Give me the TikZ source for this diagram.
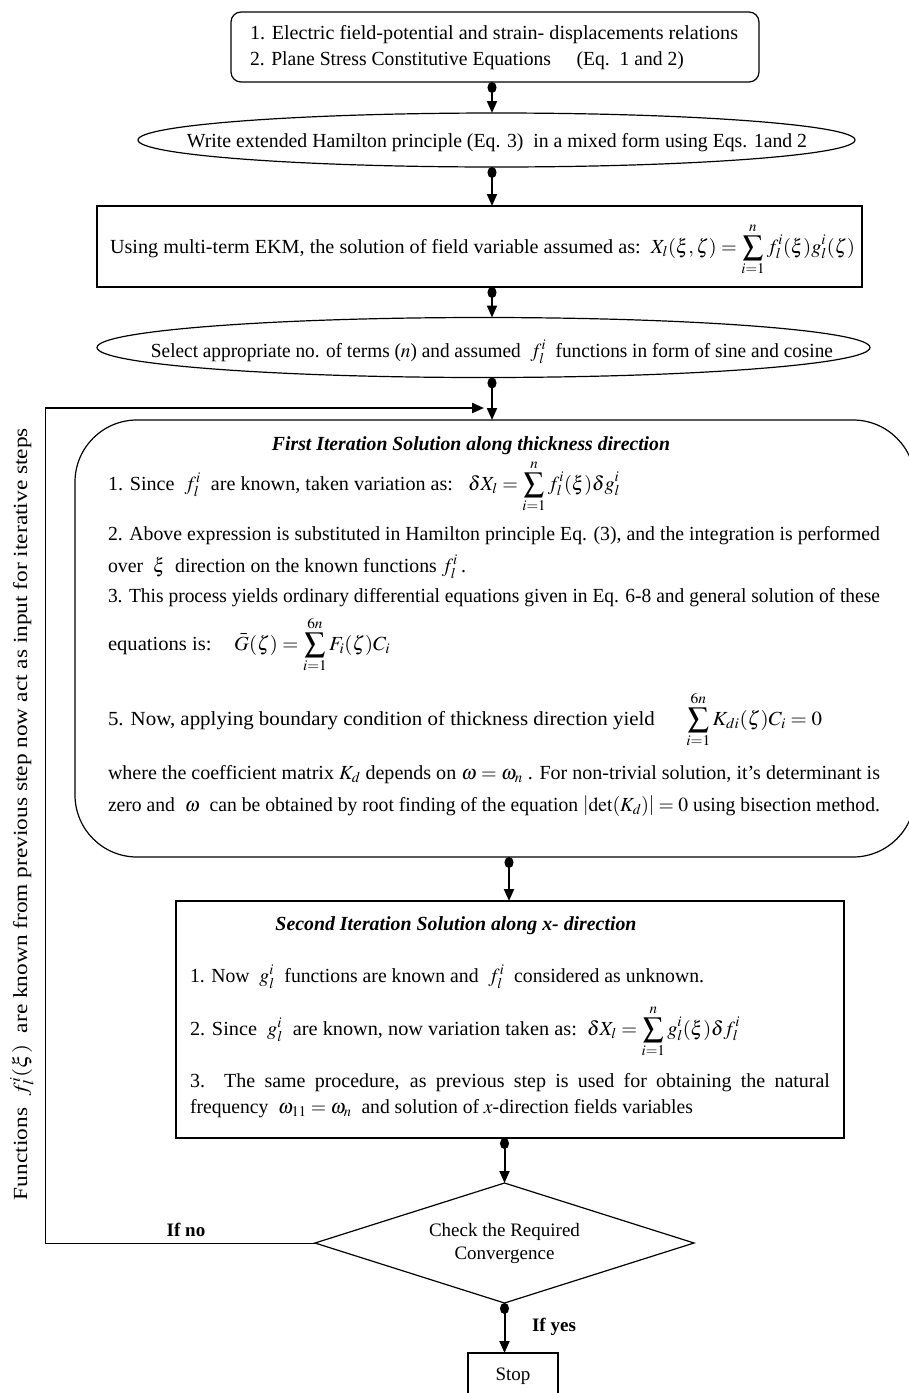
\documentclass[tikz,border=0pt]{standalone}
\usepackage{mathptmx}
\usepackage{graphicx}
\usepackage[no-math]{fontspec}
\setmainfont{Liberation Serif}
\usetikzlibrary{shapes.geometric,arrows.meta}
\newcommand{\fitto}[2]{\resizebox{#1}{\height}{#2}}
\begin{document}
\begin{tikzpicture}[x=1pt,y=-1pt,
  every node/.style={inner sep=0pt, outer sep=0pt},
  frame/.style={draw, line width=1.2pt},
  rframe/.style={frame, rectangle, rounded corners=#1},
  eframe/.style={frame, ellipse},
  txt/.style={font=\fontsize{20}{24}\selectfont, anchor=base west},
  ctxt/.style={font=\fontsize{20}{24}\selectfont, anchor=base},
  ttl/.style={font=\fontsize{20}{24}\selectfont\bfseries\itshape, anchor=base},
  flow/.style={line width=2pt, {Circle[length=11pt,width=9pt]}-{Triangle[length=12pt,width=10pt]}},
  fb/.style={line width=1pt},
  fbarrow/.style={line width=2.2pt, -{Triangle[length=12pt,width=10pt]}},
]
\useasboundingbox[fill=white] (0,0) rectangle (909,1393);

% axes for the vertical connectors
\coordinate (ax) at (492,0);
\coordinate (bx) at (509,0);
\coordinate (cx) at (504.5,0);

% ---------- top box ----------
\node[rframe=10pt, minimum width=528pt, minimum height=70pt] (top) at (495,47) {};
\node[txt] (t1) at (250,39) {\fitto{488pt}{1. Electric field-potential and strain- displacements relations}};
\node[txt] (t2) at (250,65) {\fitto{434pt}{2. Plane Stress Constitutive Equations\hspace*{26pt}(Eq.~~1 and 2)}};

% ---------- ellipse 1 ----------
\node[eframe, minimum width=717pt, minimum height=54pt] (e1) at (496.5,140) {};
\node[ctxt] (e1t) at (497,147) {\fitto{620pt}{Write extended Hamilton principle (Eq. 3)~~in a mixed form using Eqs. 1and 2}};

% ---------- box 2 ----------
\node[frame, minimum width=765pt, minimum height=81pt] (b2) at (479.5,246.5) {};
\node[txt] (b2t) at (110,253) {\fitto{745pt}{Using multi-term EKM, the solution of field variable assumed as:~~$X_l(\xi,\zeta)=\displaystyle\sum_{i=1}^{n} f_l^i(\xi)g_l^i(\zeta)$}};

% ---------- ellipse 2 ----------
\node[eframe, minimum width=773pt, minimum height=60pt] (e2) at (483.5,347.5) {};
\node[ctxt] (e2t) at (492,357) {\fitto{682pt}{Select appropriate no. of terms ($n$) and assumed~~$f_l^i$~~functions in form of sine and cosine}};

% ---------- first iteration box ----------
\node[rframe=62pt, minimum width=840pt, minimum height=437pt] (it1) at (495,638.5) {};
\node[ttl] (it1h) at (471,450) {\fitto{398pt}{First Iteration Solution along thickness direction}};
\node[txt] (a1) at (108,490) {\fitto{512pt}{1. Since~~$f_l^i$~~are known, taken variation as:~~~$\delta X_l=\displaystyle\sum_{i=1}^{n} f_l^i(\xi)\delta g_l^i$}};
\node[txt] (a2) at (108,540) {\fitto{772pt}{2. Above expression is substituted in Hamilton principle Eq. (3), and the integration is performed}};
\node[txt] (a3) at (108,572) {\fitto{358pt}{over~~$\xi$~~direction on the known functions $f_l^i$\,.}};
\node[txt] (a4) at (108,602) {\fitto{772pt}{3. This process yields ordinary differential equations given in Eq. 6-8 and general solution of these}};
\node[txt] (a5) at (108,650) {\fitto{282pt}{equations is:\hspace*{22pt}$\bar{G}(\zeta)=\displaystyle\sum_{i=1}^{6n}F_i(\zeta)C_i$}};
\node[txt] (a6) at (108,725) {\fitto{714pt}{5. Now, applying boundary condition of thickness direction yield\hspace*{30pt}$\displaystyle\sum_{i=1}^{6n}K_{di}(\zeta)C_i=0$}};
\node[txt] (a7) at (108,779) {\fitto{772pt}{where the coefficient matrix $K_d$ depends on $\omega=\omega_n$ . For non-trivial solution, it's determinant is}};
\node[txt] (a8) at (108,811) {\fitto{772pt}{zero and~~$\omega$~~can be obtained by root finding of the equation $\left|\det(K_d)\right|=0$ using bisection method.}};

% ---------- second iteration box ----------
\node[frame, minimum width=668pt, minimum height=237pt] (it2) at (510,1019.5) {};
\node[ttl] (it2h) at (456,930) {\fitto{361pt}{Second Iteration Solution along x- direction}};
\node[txt] (s1) at (190,982) {\fitto{514pt}{1. Now~~$g_l^i$~~functions are known and~~$f_l^i$~~considered as unknown.}};
\node[txt] (s2) at (190,1035) {\fitto{550pt}{2. Since~~$g_l^i$~~are known, now variation taken as:~~$\delta X_l=\displaystyle\sum_{i=1}^{n} g_l^i(\xi)\delta f_l^i$}};
\node[txt] (s3) at (190,1087) {\makebox[640pt][s]{3. The same procedure, as previous step is used for obtaining the natural}};
\node[txt] (s4) at (190,1113) {\fitto{503pt}{frequency~~$\omega_{11}=\omega_n$~~and solution of $x$-direction fields variables}};

% ---------- decision ----------
\node[frame, diamond, shape aspect=3.158, minimum width=379pt, minimum height=120pt, align=center,
      font=\fontsize{19}{23}\selectfont] (dia) at (504.5,1243) {Check the Required\\Convergence};
\node[frame, minimum width=90pt, minimum height=46pt, font=\fontsize{19}{22}\selectfont] (stop) at (513,1376) {Stop};
\node[ctxt, font=\fontsize{19}{22}\selectfont\bfseries] (ifno) at (186,1236) {If no};
\node[ctxt, font=\fontsize{19}{22}\selectfont\bfseries] (ifyes) at (554,1331) {If yes};

% ---------- side text ----------
\node[font=\fontsize{20}{24}\selectfont, rotate=90] (side) at (22,814)
  {\fitto{772pt}{Functions~~$f_l^i(\xi)$~~are known from previous step now act as input for iterative steps}};

% ---------- connectors ----------
\draw[flow] (top.south -| ax) -- (e1.north -| ax);
\draw[flow] (e1.south -| ax) -- (b2.north -| ax);
\draw[flow] (b2.south -| ax) -- (e2.north -| ax);
\draw[flow] (e2.south -| ax) -- (it1.north -| ax);
\draw[flow] (it1.south -| bx) -- (it2.north -| bx);
\draw[flow] (it2.south -| cx) -- (dia.north);
\draw[flow] (dia.south) -- (dia.south |- stop.north);

% feedback loop
\coordinate (fbL) at (45,1243);
\coordinate (fbT) at (45,408);
\coordinate (fbE) at (484,408);
\draw[fb] (dia.west) -- (fbL) -- (fbT);
\draw[fbarrow] (fbT) -- (fbE);
\end{tikzpicture}
\end{document}
